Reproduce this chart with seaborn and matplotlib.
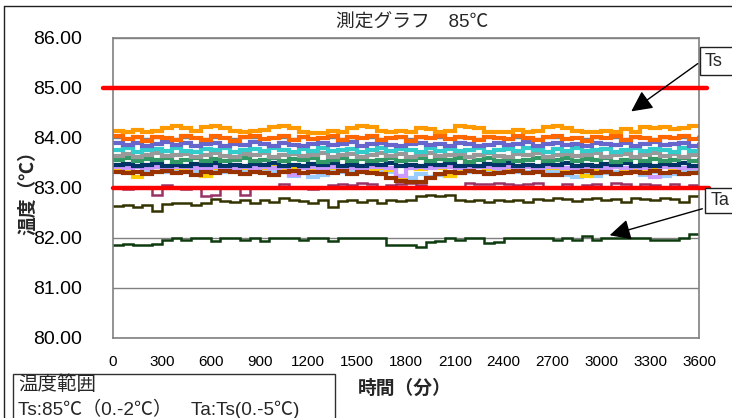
import numpy as np
import pandas as pd
import seaborn as sns
import matplotlib.pyplot as plt
from matplotlib.patches import Rectangle, FancyArrowPatch
from matplotlib.lines import Line2D

# ---- data (one value per 60 minutes) ----
orange = [84.15, 84.13, 84.17, 84.13, 84.15, 84.2, 84.24, 84.2, 84.15, 84.22, 84.24, 84.2, 84.15, 84.12, 84.15,
          84.17, 84.22, 84.25, 84.2, 84.12, 84.1, 84.1, 84.15, 84.13, 84.2, 84.24, 84.22, 84.15, 84.12, 84.15,
          84.13, 84.2, 84.18, 84.12, 84.15, 84.24, 84.22, 84.2, 84.13, 84.13, 84.13, 84.17, 84.13, 84.15, 84.22,
          84.24, 84.2, 84.15, 84.13, 84.13, 84.15, 84.13, 84.18, 84.13, 84.22, 84.2, 84.22, 84.18, 84.2, 84.24, 84.25]
dark_orange = [84.05, 83.98, 84.02, 83.95, 84.03, 84.0, 83.96, 84.04, 84.0, 83.97, 84.05, 84.0, 83.95, 84.02, 84.04,
               83.98, 84.0, 84.05, 83.96, 84.02, 83.98, 84.0, 84.04, 83.96, 84.02, 84.0, 84.05, 83.97, 84.0, 84.03,
               83.95, 84.02, 84.0, 84.04, 83.98, 84.02, 84.0, 83.96, 84.03, 84.0, 83.98, 84.05, 84.0, 83.96, 84.02,
               84.04, 83.98, 84.0, 83.95, 84.03, 84.0, 84.04, 83.97, 84.02, 84.0, 83.96, 84.03, 84.0, 84.04, 83.98, 84.02]
slate = [83.9, 83.86, 83.9, 83.84, 83.88, 83.92, 83.86, 83.9, 83.85, 83.88, 83.9, 83.84, 83.88, 83.86, 83.92,
         83.88, 83.85, 83.9, 83.87, 83.84, 83.88, 83.9, 83.86, 83.88, 83.92, 83.85, 83.88, 83.9, 83.86, 83.84,
         83.88, 83.9, 83.86, 83.88, 83.85, 83.9, 83.88, 83.84, 83.87, 83.9, 83.86, 83.88, 83.92, 83.85, 83.88,
         83.9, 83.86, 83.88, 83.84, 83.9, 83.88, 83.86, 83.9, 83.85, 83.88, 83.92, 83.86, 83.88, 83.9, 83.85, 83.88]
turquoise = [83.76, 83.8, 83.72, 83.76, 83.78, 83.74, 83.8, 83.75, 83.72, 83.78, 83.76, 83.8, 83.73, 83.76, 83.78,
             83.74, 83.8, 83.76, 83.72, 83.78, 83.75, 83.8, 83.74, 83.76, 83.78, 83.72, 83.76, 83.8, 83.74, 83.78,
             83.76, 83.72, 83.8, 83.75, 83.78, 83.74, 83.76, 83.8, 83.73, 83.76, 83.78, 83.74, 83.8, 83.76, 83.72,
             83.78, 83.75, 83.8, 83.74, 83.76, 83.78, 83.72, 83.76, 83.8, 83.74, 83.78, 83.76, 83.72, 83.8, 83.75, 83.78]
gray = [83.65, 83.68, 83.62, 83.66, 83.7, 83.64, 83.66, 83.68, 83.62, 83.66, 83.7, 83.65, 83.63, 83.68, 83.66,
        83.7, 83.62, 83.66, 83.68, 83.64, 83.66, 83.7, 83.63, 83.66, 83.68, 83.62, 83.66, 83.7, 83.65, 83.68,
        83.62, 83.66, 83.7, 83.64, 83.66, 83.68, 83.62, 83.66, 83.7, 83.65, 83.63, 83.68, 83.66, 83.7, 83.62,
        83.66, 83.68, 83.64, 83.66, 83.7, 83.63, 83.66, 83.68, 83.62, 83.66, 83.7, 83.65, 83.68, 83.62, 83.66, 83.7]
green = [83.56, 83.6, 83.54, 83.58, 83.56, 83.6, 83.53, 83.57, 83.6, 83.55, 83.58, 83.54, 83.57, 83.6, 83.55,
         83.56, 83.6, 83.54, 83.58, 83.56, 83.6, 83.53, 83.57, 83.6, 83.55, 83.58, 83.54, 83.57, 83.6, 83.55,
         83.56, 83.6, 83.54, 83.58, 83.56, 83.6, 83.53, 83.57, 83.6, 83.55, 83.58, 83.54, 83.57, 83.6, 83.55,
         83.56, 83.6, 83.54, 83.58, 83.56, 83.6, 83.53, 83.57, 83.6, 83.55, 83.58, 83.54, 83.57, 83.6, 83.55, 83.58]
navy = [83.46, 83.48, 83.44, 83.47, 83.5, 83.45, 83.47, 83.44, 83.48, 83.46, 83.5, 83.45, 83.47, 83.44, 83.48,
        83.46, 83.5, 83.45, 83.47, 83.44, 83.48, 83.46, 83.5, 83.45, 83.47, 83.44, 83.48, 83.46, 83.5, 83.45,
        83.47, 83.44, 83.48, 83.46, 83.5, 83.45, 83.47, 83.44, 83.48, 83.46, 83.5, 83.45, 83.47, 83.44, 83.48,
        83.46, 83.5, 83.45, 83.47, 83.44, 83.48, 83.46, 83.5, 83.45, 83.47, 83.44, 83.48, 83.46, 83.5, 83.45, 83.47]
lavender = [83.42, 83.4, 83.43, 83.41, 83.42, 83.4, 83.43, 83.42, 83.4, 83.41, 83.43, 83.42, 83.4, 83.43, 83.41,
            83.42, 83.4, 83.43, 83.26, 83.41, 83.42, 83.4, 83.43, 83.42, 83.4, 83.41, 83.43, 83.42, 83.4, 83.24,
            83.41, 83.42, 83.4, 83.43, 83.42, 83.4, 83.41, 83.43, 83.42, 83.4, 83.43, 83.41, 83.42, 83.4, 83.43,
            83.42, 83.4, 83.41, 83.43, 83.42, 83.4, 83.43, 83.41, 83.42, 83.4, 83.22, 83.43, 83.42, 83.4, 83.41, 83.43]
yellow = [83.4, 83.38, 83.22, 83.4, 83.42, 83.38, 83.4, 83.38, 83.4, 83.24, 83.4, 83.42, 83.38, 83.4, 83.38,
          83.4, 83.42, 83.38, 83.4, 83.4, 83.38, 83.42, 83.4, 83.38, 83.4, 83.42, 83.38, 83.4, 83.36, 83.22,
          83.4, 83.38, 83.42, 83.4, 83.24, 83.38, 83.4, 83.42, 83.38, 83.4, 83.38, 83.4, 83.42, 83.38, 83.4,
          83.4, 83.38, 83.42, 83.24, 83.38, 83.4, 83.42, 83.38, 83.4, 83.38, 83.4, 83.42, 83.38, 83.4, 83.4, 83.38]
light_blue = [83.33, 83.33, 83.33, 83.33, 83.33, 83.33, 83.33, 83.33, 83.33, 83.25, 83.33, 83.33, 83.33, 83.33, 83.33,
              83.33, 83.33, 83.33, 83.24, 83.3, 83.22, 83.26, 83.32, 83.33, 83.33, 83.33, 83.33, 83.33, 83.33, 83.25,
              83.2, 83.28, 83.22, 83.26, 83.24, 83.3, 83.33, 83.33, 83.33, 83.33, 83.33, 83.33, 83.33, 83.33, 83.33,
              83.33, 83.26, 83.22, 83.28, 83.24, 83.3, 83.33, 83.33, 83.33, 83.26, 83.33, 83.24, 83.28, 83.33, 83.33, 83.33]
brown = [83.33, 83.3, 83.33, 83.28, 83.33, 83.35, 83.3, 83.33, 83.27, 83.33, 83.3, 83.35, 83.33, 83.28, 83.33,
         83.3, 83.27, 83.33, 83.35, 83.3, 83.33, 83.33, 83.3, 83.35, 83.28, 83.33, 83.3, 83.28, 83.2, 83.15,
         83.12, 83.12, 83.2, 83.28, 83.33, 83.3, 83.35, 83.33, 83.28, 83.3, 83.33, 83.35, 83.3, 83.33, 83.26,
         83.27, 83.3, 83.33, 83.35, 83.3, 83.33, 83.28, 83.3, 83.33, 83.3, 83.35, 83.3, 83.33, 83.28, 83.3, 83.33]
magenta = [83.0, 82.98, 83.0, 83.0, 82.86, 83.06, 83.0, 82.98, 83.0, 82.85, 82.86, 83.0, 83.0, 82.86, 83.02,
           83.0, 83.0, 83.08, 83.0, 83.0, 82.98, 83.0, 83.06, 83.08, 83.06, 83.1, 83.08, 83.0, 83.06, 83.08,
           83.1, 83.06, 83.0, 83.02, 83.0, 83.0, 83.1, 83.08, 83.08, 83.1, 83.08, 83.06, 83.08, 83.1, 83.0,
           83.0, 83.08, 83.0, 83.06, 83.08, 83.0, 83.1, 83.08, 83.0, 83.08, 83.06, 83.0, 83.08, 83.0, 83.06, 83.0]
olive = [82.65, 82.66, 82.62, 82.66, 82.55, 82.68, 82.7, 82.7, 82.66, 82.7, 82.78, 82.74, 82.72, 82.76, 82.7,
         82.76, 82.72, 82.8, 82.76, 82.74, 82.7, 82.76, 82.62, 82.74, 82.76, 82.72, 82.76, 82.7, 82.76, 82.74,
         82.76, 82.84, 82.86, 82.84, 82.86, 82.76, 82.74, 82.76, 82.72, 82.76, 82.74, 82.76, 82.72, 82.78, 82.76,
         82.8, 82.78, 82.74, 82.78, 82.8, 82.76, 82.78, 82.72, 82.8, 82.78, 82.76, 82.8, 82.78, 82.72, 82.84, 82.86]
dark_green = [81.86, 81.88, 81.86, 81.86, 81.88, 81.96, 82.0, 81.96, 82.0, 82.0, 81.94, 82.0, 82.0, 81.96, 82.0,
              81.94, 82.0, 82.0, 82.0, 81.96, 82.0, 82.0, 81.94, 82.0, 82.0, 82.0, 82.0, 82.0, 81.86, 81.86,
              81.86, 81.82, 81.92, 81.94, 82.0, 81.96, 82.0, 82.0, 81.9, 81.92, 82.0, 82.0, 82.0, 82.0, 82.0,
              81.96, 82.0, 81.96, 82.05, 81.96, 82.0, 82.0, 82.0, 82.0, 82.0, 81.96, 81.96, 81.96, 82.0, 82.08, 82.08]

# Ta sensors (lower, thinner lines) and Ts sensors (dense band); bottom first
ta_series = {
    "dark_green": (dark_green, "#0E3B0E"),
    "olive": (olive, "#333300"),
    "magenta": (magenta, "#993366"),
}
ts_series = {
    "light_blue": (light_blue, "#99CCFF"),
    "yellow": (yellow, "#FFCC00"),
    "lavender": (lavender, "#CC99FF"),
    "brown": (brown, "#993300"),
    "navy": (navy, "#003366"),
    "green": (green, "#339966"),
    "gray": (gray, "#999999"),
    "turquoise": (turquoise, "#33CCCC"),
    "slate": (slate, "#6666CC"),
    "dark_orange": (dark_orange, "#FF6600"),
    "orange": (orange, "#FF9900"),
}

ts_limits = [85.0, 83.0]
y_ticks = [80, 81, 82, 83, 84, 85, 86]
x_ticks = list(range(0, 3601, 300))


def to_frame(group):
    frames = []
    for name, (vals, _) in group.items():
        frames.append(pd.DataFrame({"time": np.linspace(0, 3600, len(vals)), "temp": vals, "series": name}))
    return pd.concat(frames, ignore_index=True)


sns.set_theme(style="white")
plt.rcParams["font.family"] = ["Liberation Sans", "Noto Sans CJK JP", "DejaVu Sans"]

W, H = 732, 418
fig = plt.figure(figsize=(W / 100, H / 100), dpi=100)


def fx(x):
    return x / W


def fy(y):
    return 1 - y / H


ax = fig.add_axes([fx(113), fy(338), fx(699) - fx(113), fy(38) - fy(338)])

for group, lw in [(ta_series, 1.8), (ts_series, 3.0)]:
    n0 = len(ax.lines)
    sns.lineplot(data=to_frame(group), x="time", y="temp", hue="series", hue_order=list(group.keys()),
                 palette={k: c for k, (_, c) in group.items()}, estimator=None,
                 drawstyle="steps-post", legend=False, ax=ax)
    for ln in ax.lines[n0:]:
        ln.set_linewidth(lw)
        ln.set_solid_joinstyle("miter")

# limit lines, reaching slightly outside the plot area
ax.plot([-60, 3650], [ts_limits[0]] * 2, color="#FF0000", lw=3.2, clip_on=False, zorder=5)
ax.plot([0, 3660], [ts_limits[1]] * 2, color="#FF0000", lw=3.2, clip_on=False, zorder=5)

ax.set_xlim(0, 3600)
ax.set_ylim(80, 86)
ax.set_yticks(y_ticks)
ax.set_yticklabels([f"{v:.2f}" for v in y_ticks], fontsize=14)
ax.set_xticks(x_ticks)
ax.set_xticklabels([str(v) for v in x_ticks], fontsize=11)
ax.tick_params(axis="y", length=0, pad=22, colors="black")
ax.tick_params(axis="x", direction="in", length=4, width=1, color="#707070", pad=12, labelcolor="black")
ax.yaxis.grid(True, color="#808080", lw=1.0)
ax.xaxis.grid(False)
ax.set_axisbelow(True)
for sp in ax.spines.values():
    sp.set_color("#808080")
    sp.set_linewidth(1.2)
ax.set_xlabel("")
ax.set_ylabel("")

# titles / labels
fig.text(fx(412), fy(23), "測定グラフ　85℃", fontsize=13.5, ha="center", va="center")
fig.text(fx(405), fy(389), "時間（分）", fontsize=13.5, fontweight="bold", ha="center", va="center")
fig.text(fx(28), fy(188), "温度（℃）", fontsize=13.5, fontweight="bold", ha="center", va="center", rotation=90)

# outer chart border (top and left edge visible)
fig.add_artist(Line2D([fx(4), 1], [fy(6), fy(6)], color="#202020", lw=1))
fig.add_artist(Line2D([fx(4), fx(4)], [fy(6), 0], color="#202020", lw=1))

# temperature range note box
fig.add_artist(Rectangle((fx(13), fy(430)), fx(335) - fx(13), fy(374) - fy(430),
                         fill=False, edgecolor="#303030", lw=1))
fig.text(fx(18), fy(385), "温度範囲", fontsize=14, ha="left", va="center")
fig.text(fx(18), fy(409), "Ts:85℃（0.-2℃）　Ta:Ts(0.-5℃)", fontsize=13.7, ha="left", va="center")

# Ts / Ta callouts
fig.add_artist(Rectangle((fx(700), fy(75)), fx(740) - fx(700), fy(47) - fy(75),
                         fill=True, facecolor="white", edgecolor="#202020", lw=1))
fig.text(fx(705), fy(61), "Ts", fontsize=13, ha="left", va="center")
fig.add_artist(Rectangle((fx(705), fy(213)), fx(740) - fx(705), fy(188) - fy(213),
                         fill=True, facecolor="white", edgecolor="#202020", lw=1))
fig.text(fx(711), fy(200), "Ta", fontsize=13, ha="left", va="center")

for (x0, y0), (x1, y1) in [((700, 62), (629, 113)), ((705, 208), (607, 236))]:
    fig.add_artist(FancyArrowPatch((fx(x0), fy(y0)), (fx(x1), fy(y1)), transform=fig.transFigure,
                                   arrowstyle="-|>,head_length=8,head_width=4", mutation_scale=1.6,
                                   color="black", lw=1))

fig.savefig("out.png", dpi=100)
